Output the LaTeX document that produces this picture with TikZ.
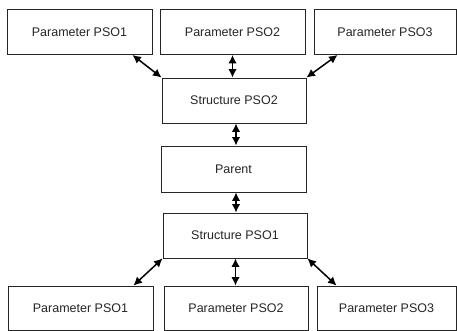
\documentclass[tikz,border=0pt]{standalone}
\usepackage{fontspec}
\setmainfont{Liberation Sans}
\usetikzlibrary{arrows.meta,calc}
\tikzset{
  box/.style={draw=black!85,line width=0.9pt,rectangle,minimum height=45pt,inner sep=0pt,font=\fontsize{12.5}{14}\selectfont,text=black!85},
  link/.style={line width=1.5pt,{Latex[length=8.5pt,width=8.5pt]}-{Latex[length=8.5pt,width=8.5pt]}}
}
\begin{document}
\begin{tikzpicture}[x=1pt,y=-1pt]
\useasboundingbox[fill=white] (0,0) rectangle (457,331);
\node[box,minimum width=145pt] (p1) at (79.5,32) {Parameter PSO1};
\node[box,minimum width=145pt] (p2) at (232.5,32) {Parameter PSO2};
\node[box,minimum width=142pt] (p3) at (385,32) {Parameter PSO3};
\node[box,minimum width=144pt] (s2) at (234,100.5) {Structure PSO2};
\node[box,minimum width=145pt,minimum height=46pt] (pa) at (233.5,169) {Parent};
\node[box,minimum width=144pt] (s1) at (235,235.5) {Structure PSO1};
\node[box,minimum width=145pt,minimum height=44pt] (q1) at (80.5,308) {Parameter PSO1};
\node[box,minimum width=144pt,minimum height=44pt] (q2) at (236,308) {Parameter PSO2};
\node[box,minimum width=139pt,minimum height=44pt] (q3) at (386.5,308) {Parameter PSO3};
\draw[link] ($(p1.south east)+(-20,0)$) -- (s2.north west);
\draw[link] (p2.south) -- (p2.south |- s2.north);
\draw[link] ($(p3.south west)+(24,0)$) -- (s2.north east);
\draw[link] ($(s2.south)+(2,0)$) -- ($(pa.north)+(2.5,0)$);
\draw[link] ($(pa.south)+(2.5,0)$) -- ($(s1.north)+(1,0)$);
\draw[link] (s1.south west) -- ($(q1.north east)+(-20,0)$);
\draw[link] ($(s1.south)+(0.5,0)$) -- ($(q2.north)+(-0.5,0)$);
\draw[link] (s1.south east) -- ($(q3.north west)+(20,0)$);
\end{tikzpicture}
\end{document}
